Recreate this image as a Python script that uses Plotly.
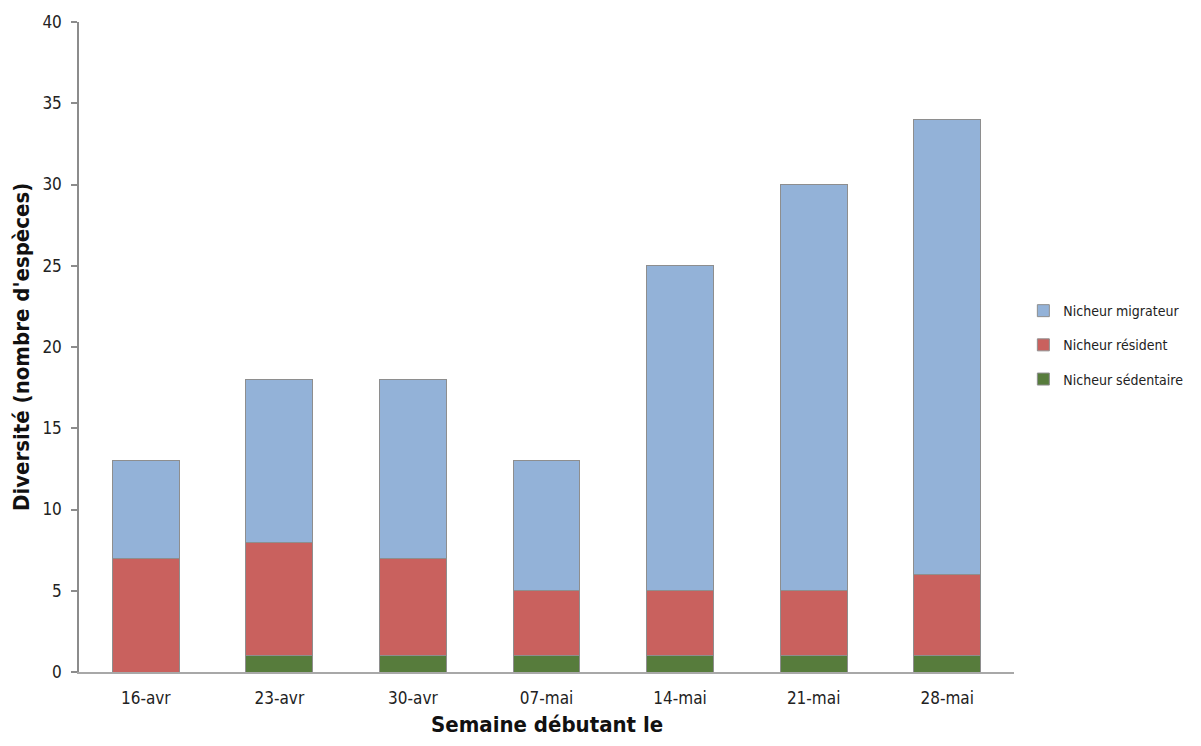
import plotly.graph_objects as go

# Weekly species diversity by breeding status
weeks = ["16-avr", "23-avr", "30-avr", "07-mai", "14-mai", "21-mai", "28-mai"]
sedentaire = [0, 1, 1, 1, 1, 1, 1]
resident = [7, 7, 6, 4, 4, 4, 5]
migrateur = [6, 10, 11, 8, 20, 25, 28]

FONT = "DejaVu Sans Condensed, Liberation Sans Narrow, sans-serif"
EDGE = dict(color="#8e8e8e", width=1)

series = [
    ("Nicheur sédentaire", sedentaire, "#577c3c", 3),
    ("Nicheur résident", resident, "#c9615e", 2),
    ("Nicheur migrateur", migrateur, "#93b2d8", 1),
]

fig = go.Figure()
for name, vals, col, rank in series:
    fig.add_trace(go.Bar(
        x=weeks, y=vals, name=name, legendgroup=name, legendrank=rank,
        marker=dict(color=col, line=EDGE), width=0.5,
    ))

fig.update_layout(
    barmode="stack",
    width=1201, height=746,
    margin=dict(l=79, r=187, t=18, b=74),
    paper_bgcolor="white", plot_bgcolor="white",
    font=dict(family=FONT, size=17, color="#222"),
    showlegend=True,
    legend=dict(
        x=1.01, y=0.503, xanchor="left", yanchor="middle",
        traceorder="grouped", tracegroupgap=13,
        font=dict(size=14, color="#222"),
        itemwidth=30,
    ),
    xaxis=dict(
        showline=True, linecolor="#a8a8a8", linewidth=1.5,
        ticks="", showgrid=False, ticklabelstandoff=10,
        tickfont=dict(size=17),
    ),
    yaxis=dict(
        range=[0, 40], dtick=5, showline=True, linecolor="#8c8c8c", linewidth=1.5,
        ticks="outside", ticklen=6, tickcolor="#8c8c8c", tickwidth=1.5,
        showgrid=False, zeroline=False, ticklabelstandoff=6,
        tickfont=dict(size=17),
    ),
    annotations=[
        dict(text="<b>Semaine débutant le</b>", x=0.5, y=-0.08, xref="paper", yref="paper",
             xanchor="center", yanchor="middle", showarrow=False,
             font=dict(size=22, family=FONT, color="#111")),
        dict(text="<b>Diversité (nombre d'espèces)</b>", x=-0.062, y=0.5, xref="paper", yref="paper",
             xanchor="center", yanchor="middle", showarrow=False, textangle=-90,
             font=dict(size=22, family=FONT, color="#111")),
    ],
)

fig.write_html("out.html")
